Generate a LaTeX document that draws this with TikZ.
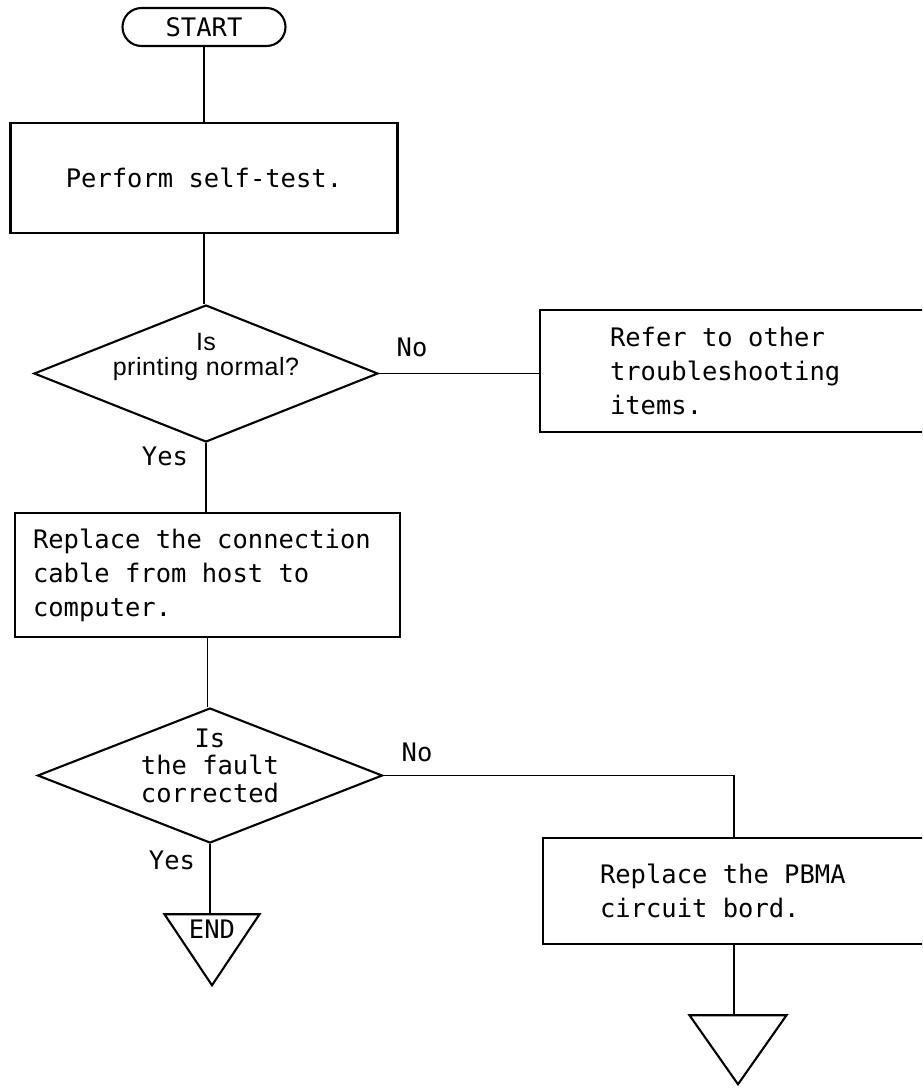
\documentclass[tikz,border=0pt]{standalone}
\usepackage{fontspec}
\usepackage{tikz}
\usetikzlibrary{shapes.geometric, positioning, calc}
\setmainfont{Liberation Sans}
\newfontfamily\lettering[WordSpace={1,0,0}]{DejaVu Sans Mono}
\newfontfamily\plainsans[LetterSpace=2]{Liberation Sans}
\newcommand\letterfont[1]{\lettering\fontsize{25.5}{#1}\selectfont\spaceskip=0.602em\relax}
\tikzset{
  outline/.style={draw=black, line width=2.1pt, fill=white},
  procbox/.style={outline, rectangle, inner sep=0pt, font=\letterfont{34}},
  terminal/.style={outline, rectangle, rounded corners=19pt, inner sep=0pt,
                   minimum width=163pt, minimum height=38pt, font=\letterfont{28}},
  decision/.style={outline, diamond, aspect=2.5, inner sep=0pt},
  stoptri/.style={outline, isosceles triangle, shape border rotate=270,
                  isosceles triangle stretches, inner sep=0pt},
  tag/.style={font=\letterfont{28}, inner sep=0pt},
  link/.style={draw=black, line width=1.3pt},
}

\begin{document}
\begin{tikzpicture}[x=1pt, y=-1pt]
  \clip (0,0) rectangle (922,1088);
  \node[terminal] (start) at (204,27) {START};
  \node[procbox, minimum width=387pt, minimum height=110pt] (selftest) at (204,178) {Perform self-test.};
  \node[decision, minimum width=344pt, minimum height=137pt] (printok) at (206,373.5) {};
  \node[align=center, inner sep=0pt, font=\plainsans\fontsize{25}{25}\selectfont] (printoktext) at ([yshift=17pt]printok.center) {Is\\printing normal?};
  \node[procbox, minimum width=384pt, minimum height=122pt, text width=244pt, align=flush left] (other) at (732,371) {Refer to other\\troubleshooting\\items.};
  \node[procbox, minimum width=385pt, minimum height=124pt, text width=349pt, align=flush left] (cable) at (207.5,575) {Replace the connection\\cable from host to\\computer.};
  \node[decision, minimum width=345pt, minimum height=135pt] (fixed) at (210,775.5) {};
  \node[tag, align=center, font=\letterfont{27.5}] (fixedtext) at ([yshift=10pt]fixed.center) {Is\\the fault\\corrected};
  \node[procbox, minimum width=382pt, minimum height=106pt, text width=268pt, align=flush left] (pbma) at (734,891) {Replace the PBMA\\circuit bord.};
  \node[stoptri, minimum width=95pt, minimum height=71pt, anchor=apex] (endtri) at (212,988) {};
  \node[tag, anchor=north] (endtext) at ([yshift=-6pt]endtri.north) {END};
  \node[stoptri, minimum width=97pt, minimum height=69pt, anchor=apex] (stop) at (738,1087) {};
  \foreach \u/\v in {start/selftest, selftest/printok, printok/cable, cable/fixed, fixed/endtri, pbma/stop}
    \draw[link] (\u.south) -- (\u.south |- \v.north);
  \draw[link] (printok.east) -- (printok.east -| other.west);
  \draw[link] (fixed.east) -| (pbma.north);
  \node[tag] (no1) at (412,347) {No};
  \node[tag] (yes1) at (165,456) {Yes};
  \node[tag] (no2) at (417,752) {No};
  \node[tag] (yes2) at (172,860) {Yes};
\end{tikzpicture}
\end{document}
